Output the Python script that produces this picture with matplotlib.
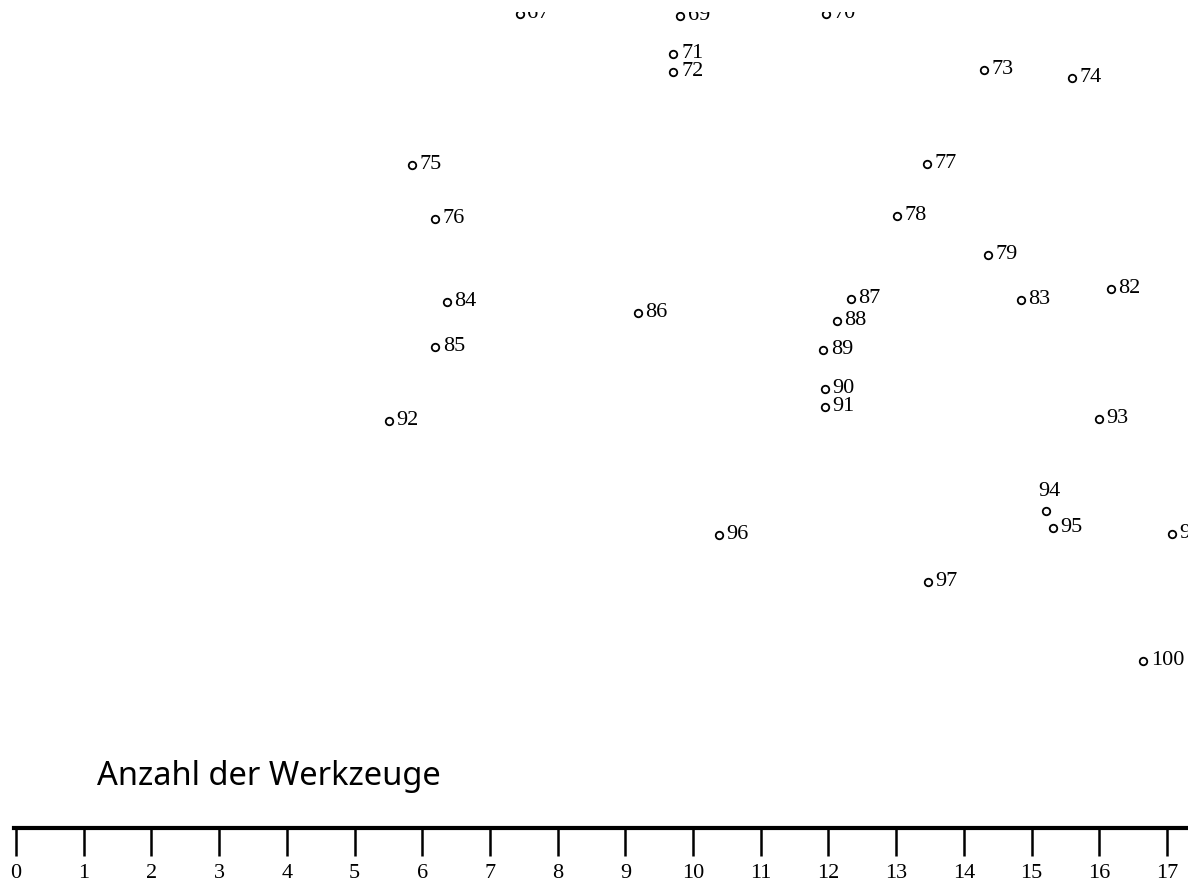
import matplotlib
matplotlib.use("Agg")
import matplotlib.pyplot as plt
from matplotlib.patches import Rectangle

# Data
labels = ["67", "69", "70", "71", "72", "73", "74", "75", "76", "77", "78", "79",
          "82", "83", "84", "85", "86", "87", "88", "89", "90", "91", "92", "93",
          "94", "95", "96", "97", "98", "100"]
werkzeuge = [7.44, 9.81, 11.96, 9.71, 9.71, 14.30, 15.59, 5.85, 6.19, 13.46, 13.01, 14.35,
             16.17, 14.84, 6.36, 6.19, 9.18, 12.33, 12.12, 11.92, 11.95, 11.95, 5.51, 15.99,
             15.22, 15.31, 10.38, 13.47, 17.07, 16.65]
hoehe = [81.4, 81.2, 81.4, 77.4, 75.6, 75.8, 75.0, 66.3, 60.9, 66.4, 61.2, 57.3,
         53.9, 52.8, 52.6, 48.1, 51.5, 52.9, 50.7, 47.8, 43.9, 42.1, 40.7, 40.9,
         31.7, 30.0, 29.3, 24.6, 29.4, 16.7]
tick_values = list(range(0, 18))
title = "Anzahl der Werkzeuge"

fig = plt.figure(figsize=(11.88, 8.88), dpi=100)
ax = fig.add_axes([0, 0, 1, 1])
ax.set_xlim(-0.236, 17.31)
ax.set_ylim(-6.0, 82.8)

ax.plot(werkzeuge, hoehe, linestyle="none", marker="o", markersize=5.4,
        markerfacecolor="white", markeredgecolor="black", markeredgewidth=1.3)

for lab, x, y in zip(labels, werkzeuge, hoehe):
    if lab == "94":
        ax.annotate(lab, (x, y), xytext=(2, 10.5), textcoords="offset points",
                    ha="center", va="baseline", fontsize=16,
                    family="Liberation Serif")
    else:
        ax.annotate(lab, (x, y), xytext=(5.5, -3), textcoords="offset points",
                    ha="left", va="baseline", fontsize=16,
                    family="Liberation Serif", annotation_clip=False)

# axis
for s in ["top", "left", "right"]:
    ax.spines[s].set_visible(False)
ax.spines["bottom"].set_position(("data", 0))
ax.spines["bottom"].set_linewidth(3.0)
ax.spines["bottom"].set_bounds(-0.03, 17.31)
ax.set_yticks([])
ax.set_xticks(tick_values)
ax.set_xticklabels([str(t) for t in tick_values], family="Liberation Serif", fontsize=16)
ax.tick_params(axis="x", direction="out", length=20, width=1.8, pad=6)

ax.text(1.196, 4.3, title, ha="left", va="baseline", fontsize=23.5,
        family="Noto Sans", fontweight="medium", color="black")

# top edge of the scanned page cuts the first row of labels
fig.patches.append(Rectangle((0, 1 - 12 / 888), 1, 12 / 888, transform=fig.transFigure,
                             facecolor="white", edgecolor="none", zorder=10))

fig.savefig("out.png", dpi=100)
